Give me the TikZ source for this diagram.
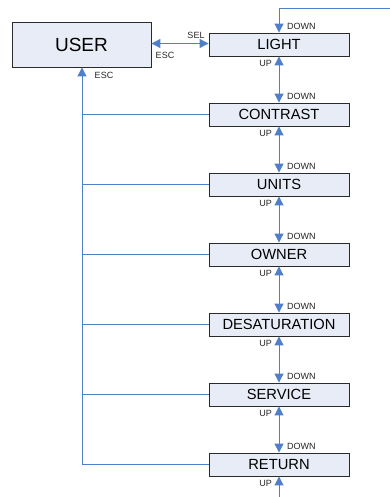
\documentclass[tikz,border=0pt]{standalone}
\usepackage{fontspec}
\setmainfont{Liberation Sans}
\usetikzlibrary{arrows.meta}
\definecolor{lnblue}{HTML}{4F7FC8}
\definecolor{boxfill}{HTML}{E8ECF7}
\definecolor{boxline}{HTML}{2A2A2A}
\begin{document}
\begin{tikzpicture}[x=1pt,y=-1pt,
  menubox/.style={draw=boxline, line width=0.9pt, fill=boxfill, minimum width=140pt, minimum height=23pt, inner sep=0pt, font=\fontsize{14.7}{16}\selectfont},
  userbox/.style={draw=boxline, line width=0.9pt, fill=boxfill, minimum width=139pt, minimum height=45pt, inner sep=0pt, font=\fontsize{19}{22}\selectfont},
  conn/.style={draw=lnblue, line width=1pt},
  tip/.style={-{Triangle[length=9pt,width=9pt]}},
  tips/.style={{Triangle[length=9pt,width=9pt]}-{Triangle[length=9pt,width=9pt]}},
  lbl/.style={font=\fontsize{9}{10}\selectfont, inner sep=0pt, text=black!85}
]
\useasboundingbox (0,0) rectangle (390,497);
\node[userbox] (u) at (81.5,44.5) {USER};
\node[menubox] (b0) at (279,44.5) {LIGHT};
\node[menubox] (b1) at (279,114.5) {CONTRAST};
\node[menubox] (b2) at (279,184.5) {UNITS};
\node[menubox] (b3) at (279,254.5) {OWNER};
\node[menubox] (b4) at (279,324.5) {DESATURATION};
\node[menubox] (b5) at (279,394.5) {SERVICE};
\node[menubox] (b6) at (279,464.5) {RETURN};
\coordinate (top) at (390,9);
\coordinate (bot) at (279,497);
\coordinate (lbot) at (82,464.5);
% user <-> light
\draw[conn,tips] ([yshift=1pt]u.east) -- ([yshift=1pt]b0.west);
\node[lbl] (sel) at (196,35) {SEL};
\node[lbl] (escr) at (165,55.5) {ESC};
% return line to user
\draw[conn,tip] (lbot) -- (lbot |- u.south);
\node[lbl] (escb) at (104,75.5) {ESC};
\foreach \i in {1,...,5} {
  \draw[conn] (lbot |- b\i.west) -- (b\i.west);
}
\draw[conn] (lbot) -- (b6.west);
% vertical chain
\draw[conn,tip] (top) -| (b0.north);
\foreach \i/\j in {0/1,1/2,2/3,3/4,4/5,5/6} {
  \draw[conn,tips] (b\i.south) -- (b\j.north);
}
\draw[conn,tip] (bot) -- (b6.south);
\foreach \i in {0,...,6} {
  \node[lbl,anchor=west] (dn\i) at ([xshift=8pt,yshift=6pt]b\i.north) {DOWN};
  \node[lbl,anchor=east] (up\i) at ([xshift=-7pt,yshift=-6.5pt]b\i.south) {UP};
}
\end{tikzpicture}
\end{document}
